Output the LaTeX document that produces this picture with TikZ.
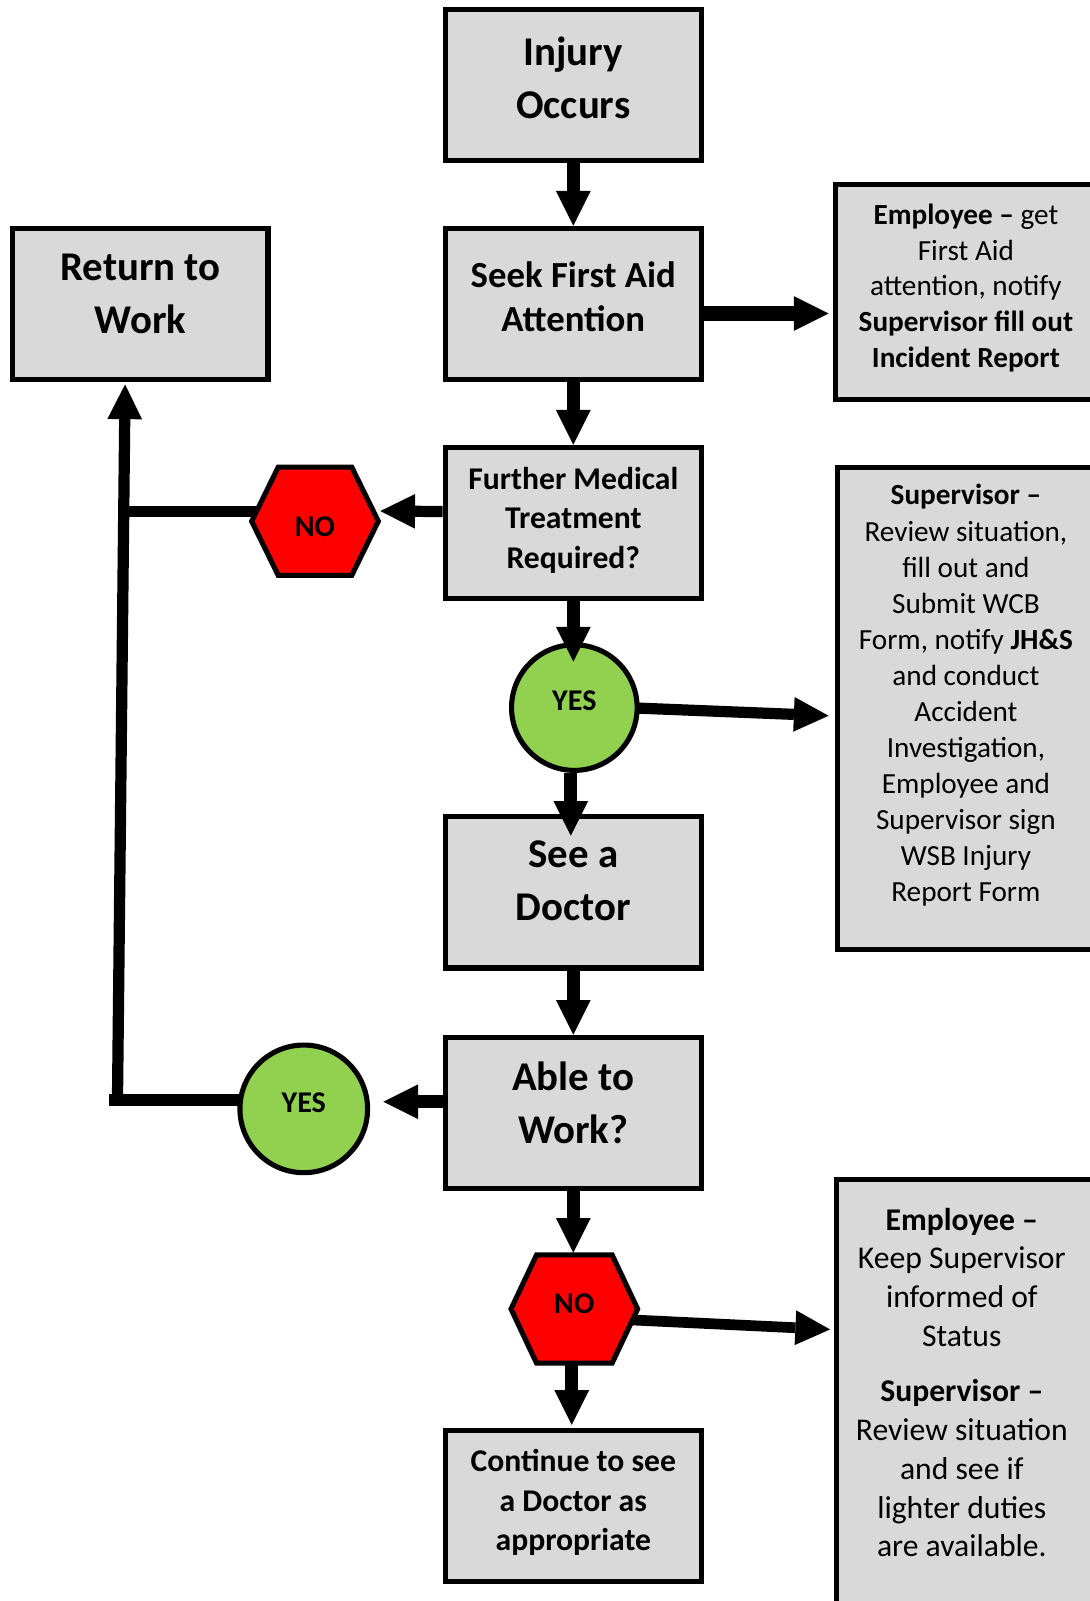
\documentclass[tikz,border=0pt]{standalone}
\usepackage{fontspec}
\setmainfont{Carlito}
\usetikzlibrary{arrows.meta,calc,backgrounds}
\definecolor{boxgray}{HTML}{D9D9D9}
\definecolor{nored}{HTML}{FF0000}
\definecolor{yesgreen}{HTML}{92D050}
\tikzset{
  procbox/.style={draw=black, line width=5pt, fill=boxgray, minimum width=251pt,
    minimum height=148pt, inner sep=0pt, align=center},
  sidebox/.style={draw=black, line width=5pt, fill=boxgray, inner sep=0pt},
  sidetext/.style={align=center, inner sep=0pt},
  yescirc/.style={circle, draw=black, line width=5pt, fill=yesgreen, inner sep=0pt,
    text depth=13pt, font=\bfseries\fontsize{29.5}{35}\selectfont},
  hexfill/.style={draw=black, line width=5pt, fill=nored, line join=miter},
  hexlabel/.style={inner sep=0pt, font=\bfseries\fontsize{29.5}{35}\selectfont},
  flow/.style={line width=13pt, -{Triangle[length=34pt,width=34pt,line width=0pt]}},
  trunk/.style={line width=11pt},
  big/.style={font=\bfseries\fontsize{40}{52}\selectfont},
  mid/.style={font=\bfseries\fontsize{36}{44}\selectfont},
  small/.style={font=\bfseries\fontsize{31}{38.5}\selectfont}
}
\begin{document}
\begin{tikzpicture}[x=1pt,y=-1pt]
\useasboundingbox (0,0) rectangle (1067,1568);

% process boxes
\node[procbox, big, text depth=14pt] (injury) at (561.5,83) {Injury\\Occurs};
\node[procbox, mid, text depth=14pt] (seek) at (561.5,297.5) {Seek First Aid\\Attention};
\node[procbox, big, text depth=20pt, minimum width=250pt] (ret) at (137.5,297.5) {Return to\\Work};
\node[procbox, small, text depth=10pt] (further) at (561.5,512) {Further Medical\\Treatment\\Required?};
\node[procbox, big, text depth=23pt] (doctor) at (561.5,874) {See a\\Doctor};
\node[procbox, big, text depth=20pt] (able) at (561.5,1090) {Able to\\Work?};
\node[procbox, small, text depth=12pt] (cont) at (561.5,1475) {Continue to see\\a Doctor as\\appropriate};

% side boxes
\node[sidebox, minimum width=256pt, minimum height=211pt] (emp1) at (946.5,286) {};
\node[sidetext, font=\fontsize{28.6}{35}\selectfont] (emp1t) at (946,282)
  {\textbf{Employee –} get\\First Aid\\attention, notify\\\textbf{Supervisor fill out}\\\textbf{Incident Report}};
\node[sidebox, minimum width=254pt, minimum height=472pt] (sup) at (947.5,693.5) {};
\node[sidetext, font=\fontsize{28.6}{35.3}\selectfont] (supt) at (946,681)
  {\textbf{Supervisor –}\\Review situation,\\fill out and\\Submit WCB\\Form, notify \textbf{JH\&S}\\and conduct\\Accident\\Investigation,\\Employee and\\Supervisor sign\\WSB Injury\\Report Form};
\node[sidebox, minimum width=252pt, minimum height=500pt, anchor=north west] (emp2) at (816.5,1152.5) {};
\node[sidetext, font=\fontsize{31}{38}\selectfont] (emp2t) at (942,1354)
  {\textbf{Employee –}\\Keep Supervisor\\informed of\\Status\\[16pt]\textbf{Supervisor –}\\Review situation\\and see if\\lighter duties\\are available.};

% decisions
\node[yescirc, minimum size=123pt] (yes1) at (562.5,693) {YES};
\node[yescirc, minimum size=125pt] (yes2) at (297.5,1086) {YES};

\coordinate (no1) at (308.5,510.5);
\draw[hexfill] ($(no1)+(-62,0)$) -- ($(no1)+(-36,-53)$) -- ($(no1)+(36,-53)$)
  -- ($(no1)+(62,0)$) -- ($(no1)+(36,53)$) -- ($(no1)+(-36,53)$) -- cycle;
\node[hexlabel] (no1t) at ($(no1)+(0,5)$) {NO};

\coordinate (no2) at (562.5,1282);
\draw[hexfill] ($(no2)+(-62,0)$) -- ($(no2)+(-37,-53)$) -- ($(no2)+(37,-53)$)
  -- ($(no2)+(62,0)$) -- ($(no2)+(37,53)$) -- ($(no2)+(-37,53)$) -- cycle;
\node[hexlabel] (no2t) at ($(no2)+(0,-5)$) {NO};

% junction points of the return line
\coordinate (jn1) at (121,501);
\coordinate (jn2) at (107,1077);
\coordinate (jn3) at (115,1082.5);

\begin{pgfonlayer}{background}
  \draw[trunk] ($(no1)+(0,-9.5)$) -- (jn1);
  \draw[trunk, line width=12pt] ($(yes2)+(0,-9)$) -- (jn2);
  \draw[flow, line width=11pt] (jn3) -- ($(ret.south)+(-15,2.5)$);
  \draw[flow, line width=11pt] ($(yes1)+(0,-2)$) -- ($(sup.west)+(-6.5,7.5)$);
  \draw[flow, line width=10.5pt] ($(no2)+(0,8)$) -- ($(emp2.west |- no2)+(-3.5,20)$);
\end{pgfonlayer}

% flow arrows
\draw[flow] (injury.south) -- (seek.north);
\draw[flow, line width=15pt] ([yshift=-9.5pt]seek.east) -- ($(emp1.west)+(-4.5,21)$);
\draw[flow] (seek.south) -- (further.north);
\draw[flow, line width=11pt] ([yshift=11pt]further.west) -- ($(no1)+(64,-10)$);
\draw[flow] (further.south) -- ($(further.south |- yes1.north)+(0,19)$);
\draw[flow] ($(yes1.south)+(-3.5,0)$) -- ($(doctor.north)+(-2.5,21)$);
\draw[flow] (doctor.south) -- (able.north);
\draw[flow, line width=12.5pt] ([yshift=11pt]able.west) -- ($(yes2.east)+(13,-7)$);
\draw[flow] (able.south) -- ($(able.south |- no2)+(0,-55)$);
\draw[flow] ($(no2)+(-2.5,53)$) -- ($(cont.north)+(-1.5,-3)$);
\end{tikzpicture}
\end{document}
